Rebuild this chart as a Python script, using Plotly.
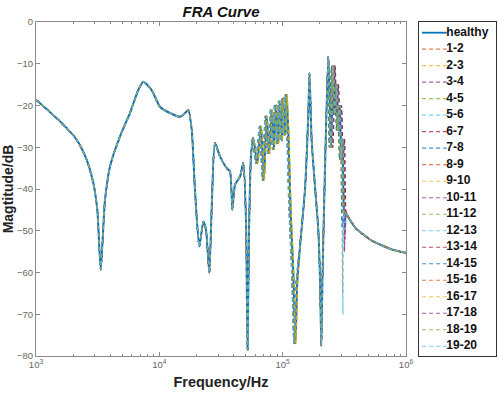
import numpy as np
import plotly.graph_objects as go

# ---------------- data ----------------
freq_hz = [1000, 1565, 2138, 2578, 2917, 3142, 3347, 3626, 3981, 4797,
           5781, 6750, 7413, 8670, 10120, 12190, 14710, 16150, 17180, 18300,
           19450, 21090, 22740, 23900, 25420, 26600, 28270, 31040, 35170, 37410,
           39080, 41100, 45110, 47980, 50460, 51900, 53380, 55380, 57830, 62280,
           66710, 70580, 74260, 78000, 82000, 85100, 88360, 92240, 95150, 98800,
           101200, 105000, 107800, 111100, 116000, 122000, 127000, 131500, 138300, 151800,
           161400, 165000, 171800, 183000, 194500, 201000, 205700, 210000, 213600, 223400,
           234600, 246600, 257500, 265700, 274300, 282600, 290600, 299000, 307000, 314400,
           323400, 351600, 393500, 450800, 530000, 615000, 769000, 1000000]

healthy_db = [-18.6, -23.8, -28.2, -33.0, -38.6, -45.0, -59.3, -42.6, -34.6, -27.4,
              -21.8, -16.3, -14.3, -16.3, -20.3, -21.8, -22.7, -21.8, -21.1, -25.8,
              -40.2, -53.8, -47.8, -49.8, -60.1, -44.2, -29.0, -32.2, -35.0, -35.8,
              -45.0, -39.0, -37.0, -33.8, -48.0, -78.5, -50.0, -32.0, -27.8, -33.8,
              -25.0, -37.8, -22.6, -31.4, -21.0, -30.5, -19.8, -29.0, -19.0, -28.5,
              -18.2, -27.0, -17.4, -25.8, -45.0, -60.0, -77.0, -62.0, -53.8, -40.0,
              -22.0, -12.3, -28.3, -39.5, -49.8, -62.0, -77.5, -62.0, -52.0, -28.2,
              -8.3, -30.0, -10.5, -22.0, -15.0, -26.0, -20.0, -33.0, -28.0, -45.0,
              -45.8, -47.4, -49.5, -50.9, -52.4, -53.3, -54.5, -55.3]

fault_labels = ["1-2", "2-3", "3-4", "4-5", "5-6", "6-7", "7-8", "8-9", "9-10", "10-11",
                "11-12", "12-13", "13-14", "14-15", "15-16", "16-17", "17-18", "18-19", "19-20"]

# resonance frequency shift of each fault (percent) in the 60-135 kHz band
band1_shift_pct = [-1.8, -0.9, -2.7, 0.6, -3.0, -0.6, -2.1, -1.5, 0.9, -2.4,
                   -1.1, -1.9, -1.7, -0.5, -2.5, 0.3, -2.3, -1.3, -3.2]
# resonance frequency shift of each fault (percent) in the 240-330 kHz band
band2_shift_pct = [2.0, -2.5, 1.0, -1.5, 3.0, -0.5, 1.5, -3.0, 2.5, -1.0,
                   0.5, -2.0, 3.5, -3.5, 1.2, -1.2, 2.2, -2.2, 0.8]
# depth of the ~314 kHz notch for each fault (dB)
fault_notch_db = [-45.0, -65.0, -55.0, -45.0, -50.0, -45.0, -48.0, -45.0, -47.0, -45.0,
                  -46.0, -70.0, -45.0, -49.0, -45.0, -46.0, -52.0, -45.0, -47.0]

line_colors = ["#0072BD", "#D95319", "#EDB120", "#7E2F8E", "#77AC30", "#4DBEEE", "#A2142F"]

x_tick_vals = [1e3, 1e4, 1e5, 1e6]
x_tick_text = ["10<sup>3</sup>", "10<sup>4</sup>", "10<sup>5</sup>", "10<sup>6</sup>"]
y_tick_vals = [0, -10, -20, -30, -40, -50, -60, -70, -80]

# ---------------- build figure ----------------
FONT = "Liberation Sans, Arial, sans-serif"
f = np.array(freq_hz, dtype=float)
h = np.array(healthy_db, dtype=float)
lf = np.log10(f)
w1 = np.interp(lf, np.log10([56000, 60000, 128000, 140000]), [0, 1, 1, 0], left=0, right=0)
w2 = np.interp(lf, np.log10([236000, 244000, 318000, 332000]), [0, 1, 1, 0], left=0, right=0)
notch_idx = freq_hz.index(314400)

fig = go.Figure()
fig.add_trace(go.Scatter(x=f, y=h, mode="lines", name="healthy",
                         line=dict(color=line_colors[0], width=2, shape="spline", smoothing=0.6),
                         xaxis="x", yaxis="y", showlegend=False))

series_styles = [("healthy", line_colors[0], "solid", 2)]
for k, lab in enumerate(fault_labels):
    color = line_colors[(k + 1) % len(line_colors)]
    fv = f * (1 + band1_shift_pct[k] / 100.0 * w1 + band2_shift_pct[k] / 100.0 * w2)
    yv = h.copy()
    yv[notch_idx] = fault_notch_db[k]
    fig.add_trace(go.Scatter(x=fv, y=yv, mode="lines", name=lab, opacity=0.85,
                             line=dict(color=color, width=1.2, dash="4px,3px",
                                       shape="spline", smoothing=0.6),
                             xaxis="x", yaxis="y", showlegend=False))
    series_styles.append((lab, color, "4px,3px", 1.2))

# legend drawn in its own small axes
for i, (lab, color, dash, width) in enumerate(series_styles):
    fig.add_trace(go.Scatter(x=[0.04, 0.36], y=[i, i], mode="lines",
                             line=dict(color=color, width=1.8 if i == 0 else 1.2, dash=dash),
                             opacity=1 if i == 0 else 0.75,
                             xaxis="x2", yaxis="y2", showlegend=False, hoverinfo="skip"))
fig.add_trace(go.Scatter(x=[0.355] * len(series_styles), y=list(range(len(series_styles))),
                         text=[s[0] for s in series_styles], mode="text",
                         textposition="middle right",
                         textfont=dict(family=FONT, size=12, color="#111", weight="bold"),
                         xaxis="x2", yaxis="y2", showlegend=False, hoverinfo="skip",
                         cliponaxis=False))

minor_vals = [m * 10 ** e for e in (3, 4, 5) for m in range(2, 10)]
axis_col = "#8a8a8a"
fig.update_layout(
    width=498, height=394,
    margin=dict(l=36, r=2, t=22, b=38, autoexpand=False),
    paper_bgcolor="white", plot_bgcolor="white",
    showlegend=False,
    title=dict(text="<b><i>FRA Curve</i></b>", x=221 / 498, xanchor="center",
               y=1 - 12 / 394, yanchor="middle",
               font=dict(family=FONT, size=15, color="#111")),
    xaxis=dict(type="log", range=[3, 6], domain=[0, 370 / 460],
               tickvals=x_tick_vals, ticktext=x_tick_text,
               ticks="inside", ticklen=4, tickcolor=axis_col,
               showline=True, linecolor=axis_col, linewidth=1, mirror="ticks",
               showgrid=False, zeroline=False, automargin=False,
               tickfont=dict(family=FONT, size=9.5, color="#666"),
               minor=dict(tickvals=minor_vals, ticks="inside", ticklen=2, tickcolor=axis_col),
               title=dict(text="<b>Frequency/Hz</b>", standoff=7,
                          font=dict(family=FONT, size=14.5, color="#222")),
               anchor="y"),
    yaxis=dict(range=[-80, 0], tickvals=y_tick_vals,
               ticks="inside", ticklen=4, tickcolor=axis_col,
               showline=True, linecolor=axis_col, linewidth=1, mirror="ticks",
               showgrid=False, zeroline=False, automargin=False,
               tickfont=dict(family=FONT, size=9.5, color="#666"),
               title=dict(text="<b>Magtitude/dB</b>", standoff=0,
                          font=dict(family=FONT, size=14, color="#222")),
               anchor="x"),
    xaxis2=dict(domain=[(419 - 36) / 460, 1.0], range=[0, 1], anchor="y2",
                showticklabels=False, ticks="", showgrid=False, zeroline=False,
                showline=True, linecolor="#333", linewidth=1, mirror=True, fixedrange=True,
                automargin=False),
    yaxis2=dict(domain=[0, 1], range=[19.59, -0.648], anchor="x2",
                showticklabels=False, ticks="", showgrid=False, zeroline=False,
                showline=True, linecolor="#333", linewidth=1, mirror=True, fixedrange=True,
                automargin=False),
)

fig.write_html("out.html", config={"displayModeBar": False},
               post_script="document.body.style.margin='0';document.body.style.padding='0';")
